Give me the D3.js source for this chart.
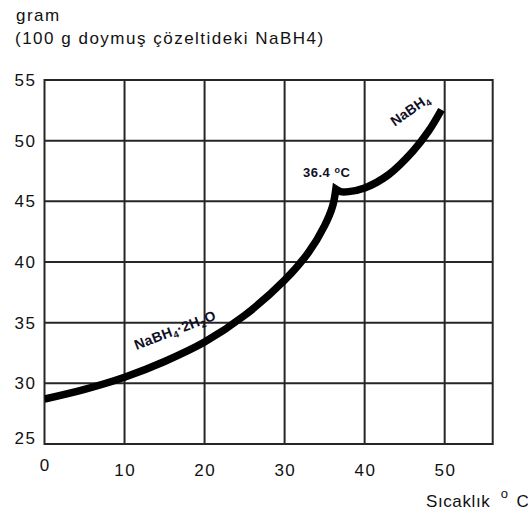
<!DOCTYPE html>
<html>
<head>
<meta charset="utf-8">
<script src="https://cdn.jsdelivr.net/npm/d3@7"></script>
<style>
  html, body { margin: 0; padding: 0; background: #fff; }
  svg { display: block; }
  text { font-family: "Liberation Sans", Arial, sans-serif; }
</style>
</head>
<body>
<svg id="chart" width="528" height="514"></svg>
<script>
// Solubility of NaBH4 (g per 100 g saturated solution) vs temperature
const xTicks = [0, 10, 20, 30, 40, 50];
const yTicks = [25, 30, 35, 40, 45, 50, 55];

// NaBH4·2H2O branch (up to the transition point)
const tempsHydrate = [0, 5, 10, 15, 20, 25, 30, 33, 35, 36, 36.4];
const gramsHydrate = [28.7, 29.5, 30.5, 31.8, 33.4, 35.6, 38.5, 40.8, 43.0, 44.6, 46.0];

// Anhydrous NaBH4 branch (from the transition point)
const tempsAnhydrous = [36.4, 37, 38, 40, 43, 46, 48, 49.6];
const gramsAnhydrous = [46.0, 45.8, 45.8, 46.1, 47.2, 49.1, 50.8, 52.55];

const transitionTemp = 36.4;

const svg = d3.select("#chart");
const plotLeft = 44.5, plotTop = 80, plotRight = 492.7, plotBottom = 444;

const x = d3.scaleLinear().domain([0, 56]).range([plotLeft, plotRight]);
const y = d3.scaleLinear().domain([25, 55]).range([plotBottom, plotTop]);

const gridColor = "#262626";

// Title lines
svg.append("text").attr("x", 16).attr("y", 21)
  .attr("font-size", 17).attr("letter-spacing", 1.5).attr("fill", "#111")
  .text("gram");
svg.append("text").attr("x", 15).attr("y", 43.5)
  .attr("font-size", 17).attr("letter-spacing", 1.5).attr("fill", "#111")
  .text("(100 g doymuş çözeltideki NaBH4)");

// Grid
const grid = svg.append("g").attr("stroke", gridColor).attr("stroke-width", 2);
grid.selectAll("line.v").data(xTicks.filter(d => d > 0)).join("line")
  .attr("class", "v")
  .attr("x1", d => x(d)).attr("x2", d => x(d))
  .attr("y1", plotTop).attr("y2", plotBottom);
grid.selectAll("line.h").data(yTicks.filter(d => d > 25 && d < 55)).join("line")
  .attr("class", "h")
  .attr("x1", plotLeft).attr("x2", plotRight)
  .attr("y1", d => y(d)).attr("y2", d => y(d));
svg.append("rect")
  .attr("x", plotLeft).attr("y", plotTop)
  .attr("width", plotRight - plotLeft).attr("height", plotBottom - plotTop)
  .attr("fill", "none").attr("stroke", gridColor).attr("stroke-width", 2);

// Y tick labels
svg.append("g").selectAll("text").data(yTicks).join("text")
  .attr("x", 36.5)
  .attr("y", d => y(d) + (d === 25 ? -6.5 : 0))
  .attr("dy", "0.36em")
  .attr("text-anchor", "end")
  .attr("font-size", 17).attr("letter-spacing", 1.5).attr("fill", "#111")
  .text(d => d);

// X tick labels
svg.append("g").selectAll("text").data(xTicks).join("text")
  .attr("x", d => x(d) + 0.75)
  .attr("y", d => d === 0 ? 471 : 475.5)
  .attr("text-anchor", "middle")
  .attr("font-size", 17).attr("letter-spacing", 1.5).attr("fill", "#111")
  .text(d => d);

// X axis title
const xt = svg.append("text").attr("x", 426).attr("y", 506.5)
  .attr("font-size", 17).attr("letter-spacing", 0.6).attr("fill", "#111");
xt.append("tspan").text("Sıcaklık ");
xt.append("tspan").attr("font-size", 13).attr("dy", -9).attr("dx", 5).text("o");
xt.append("tspan").attr("dy", 9).attr("dx", 8).text("C");

// Curve
svg.append("clipPath").attr("id", "plot-clip")
  .append("rect").attr("x", plotLeft).attr("y", plotTop)
  .attr("width", plotRight - plotLeft).attr("height", plotBottom - plotTop);

const line = d3.line()
  .x(d => x(d[0])).y(d => y(d[1]))
  .curve(d3.curveCatmullRom.alpha(0.5));

const hydrate = tempsHydrate.map((t, i) => [t, gramsHydrate[i]]);
const anhydrous = tempsAnhydrous.map((t, i) => [t, gramsAnhydrous[i]]);
// join both branches into one path so the transition point gets a sharp corner
const pathD = line(hydrate) + line(anhydrous).replace(/^M/, "L");

svg.append("path")
  .attr("d", pathD)
  .attr("clip-path", "url(#plot-clip)")
  .attr("fill", "none")
  .attr("stroke", "#000")
  .attr("stroke-width", 7.5)
  .attr("stroke-linejoin", "miter")
  .attr("stroke-miterlimit", 4)
  .attr("stroke-linecap", "butt");

// Branch labels
const labelColor = "#0f0f26";

const lab1 = svg.append("text")
  .attr("transform", "translate(175,330) rotate(-21)")
  .attr("text-anchor", "middle").attr("dy", "0.35em")
  .attr("font-size", 14).attr("font-weight", "bold")
  .attr("letter-spacing", 0.4).attr("fill", labelColor);
lab1.append("tspan").text("NaBH");
lab1.append("tspan").attr("font-size", 9.5).attr("dy", 3).text("4");
lab1.append("tspan").attr("dy", -3).text("·2H");
lab1.append("tspan").attr("font-size", 9.5).attr("dy", 3).text("2");
lab1.append("tspan").attr("dy", -3).text("O");

const lab2 = svg.append("text")
  .attr("transform", "translate(410,110) rotate(-35)")
  .attr("text-anchor", "middle").attr("dy", "0.35em")
  .attr("font-size", 14).attr("font-weight", "bold")
  .attr("letter-spacing", 0.2).attr("fill", labelColor);
lab2.append("tspan").text("NaBH");
lab2.append("tspan").attr("font-size", 9.5).attr("dy", 3).text("4");

const lab3 = svg.append("text")
  .attr("x", 303).attr("y", 176.5)
  .attr("font-size", 13).attr("font-weight", "bold")
  .attr("letter-spacing", 0.5).attr("fill", labelColor);
lab3.append("tspan").text(transitionTemp + " ");
lab3.append("tspan").attr("font-size", 9).attr("dy", -4).text("o");
lab3.append("tspan").attr("dy", 4).text("C");
</script>
</body>
</html>
